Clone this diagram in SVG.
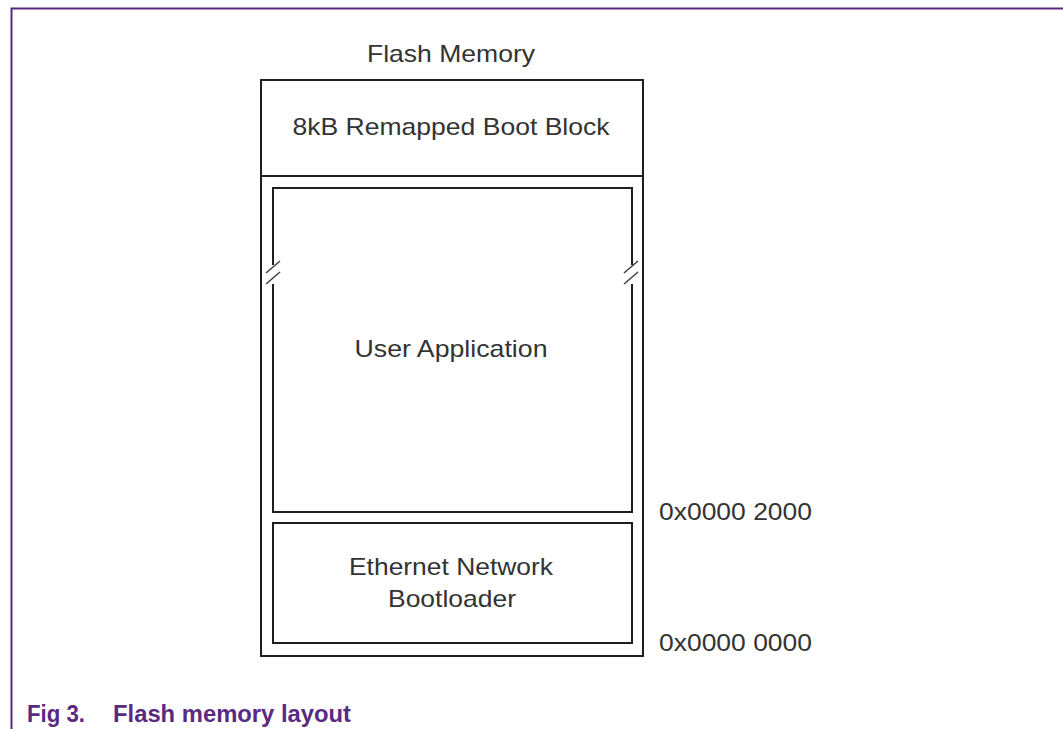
<svg xmlns="http://www.w3.org/2000/svg" width="1063" height="729" viewBox="0 0 1063 729">
<style>
.box{fill:none;stroke:#1e1e1e;stroke-width:2}
.brk{stroke:#444;stroke-width:1.6;fill:none}
.t{font-family:"Liberation Sans",Arial,sans-serif;font-size:24px;fill:#333;text-anchor:middle}
.addr{font-family:"Liberation Sans",Arial,sans-serif;font-size:24px;fill:#333}
.cap{font-family:"Liberation Sans",Arial,sans-serif;font-size:23px;font-weight:bold;fill:#5a2a82}
</style>
<rect width="1063" height="729" fill="#fff"/>
<g id="frame">
<path d="M11.5 729 V8.5 H1063" fill="none" stroke="#5a2a82" stroke-width="2"/>
</g>
<g id="title"><text class="t" x="451" y="62" textLength="168" lengthAdjust="spacingAndGlyphs">Flash Memory</text></g>
<g id="flash">
<rect class="box" x="261" y="80" width="382" height="576"/>
</g>
<g id="bootblock">
<line class="box" x1="261" y1="176" x2="643" y2="176"/>
<text class="t" x="451" y="135" textLength="317" lengthAdjust="spacingAndGlyphs">8kB Remapped Boot Block</text>
</g>
<g id="userapp">
<path class="box" d="M273 265 V188 H632 V265 M632 284 V512 H273 V284"/>
<path class="brk" d="M266 273 L280 261 M266 284 L280 272 M624 273 L638 261 M624 284 L638 272"/>
<text class="t" x="451" y="357" textLength="193" lengthAdjust="spacingAndGlyphs">User Application</text>
</g>
<g id="bootloader">
<rect class="box" x="273" y="523" width="359" height="120"/>
<text class="t" x="451" y="575" textLength="204" lengthAdjust="spacingAndGlyphs">Ethernet Network</text>
<text class="t" x="452" y="607" textLength="128" lengthAdjust="spacingAndGlyphs">Bootloader</text>
</g>
<g id="addresses">
<text class="addr" x="659" y="520" textLength="153" lengthAdjust="spacingAndGlyphs">0x0000 2000</text>
<text class="addr" x="659" y="651" textLength="153" lengthAdjust="spacingAndGlyphs">0x0000 0000</text>
</g>
<g id="caption">
<text class="cap" x="27" y="722" textLength="58" lengthAdjust="spacingAndGlyphs">Fig 3.</text>
<text class="cap" x="113" y="722" textLength="238" lengthAdjust="spacingAndGlyphs">Flash memory layout</text>
</g>
<g id="connectors"></g>
</svg>
